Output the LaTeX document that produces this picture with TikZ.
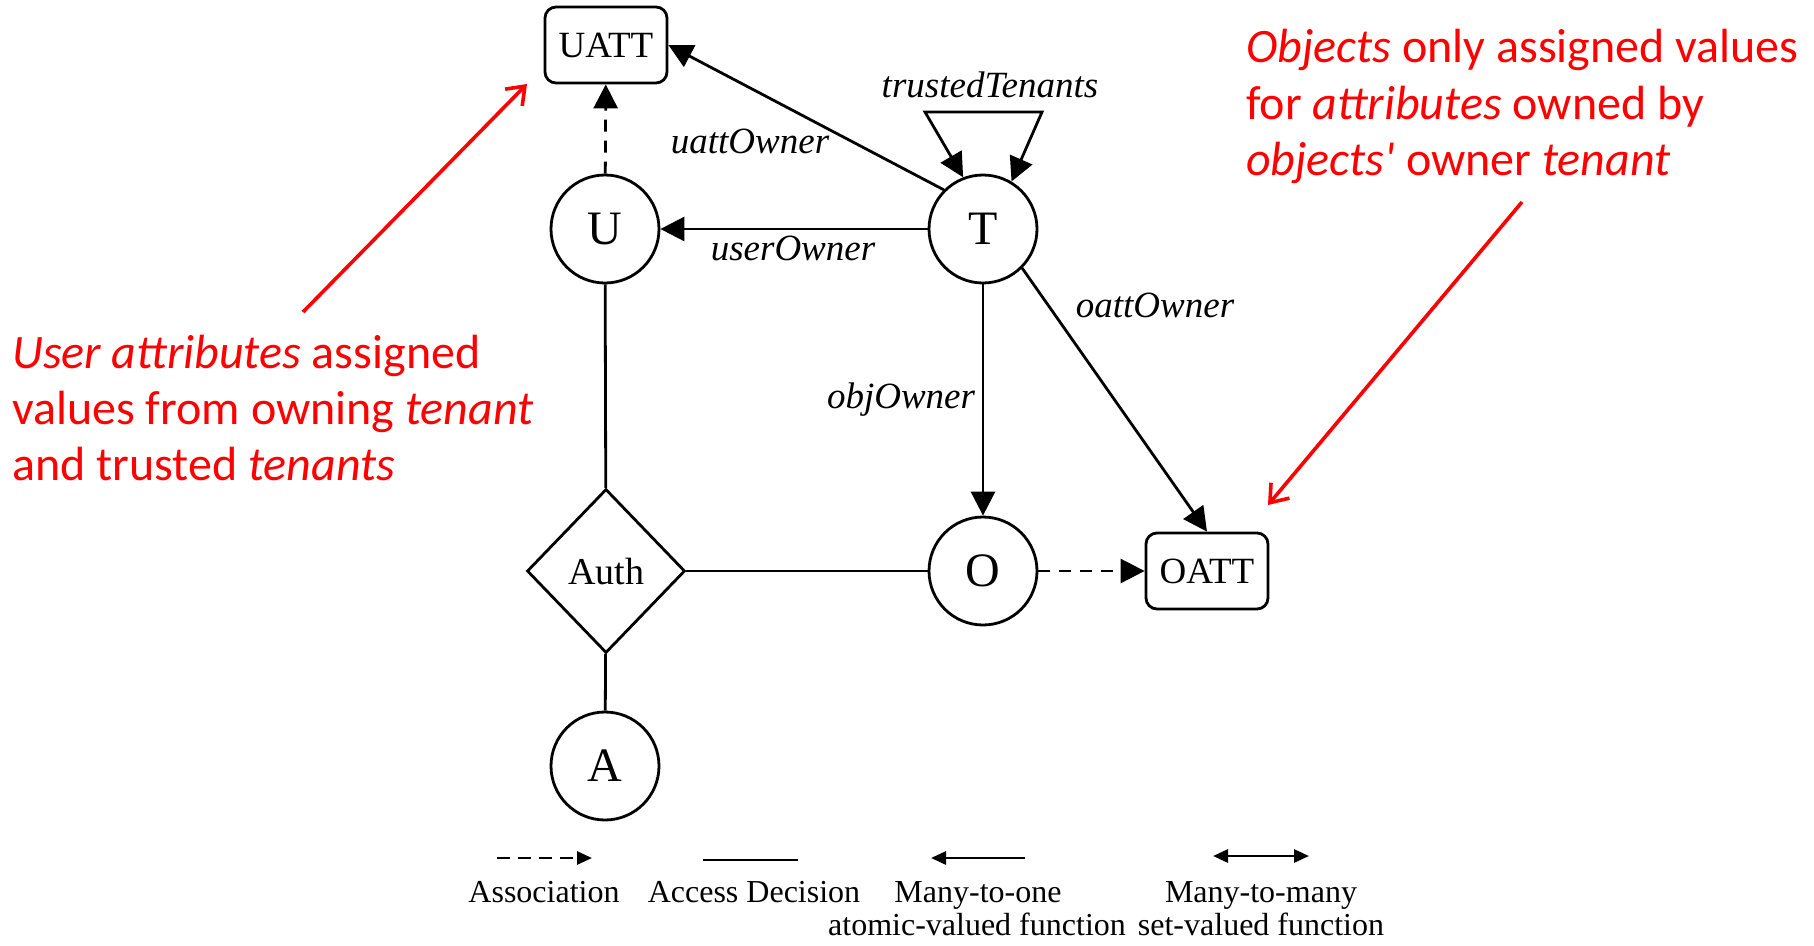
\documentclass[tikz,border=0pt]{standalone}
\usepackage{fontspec}
\setmainfont{Liberation Serif}
\newfontfamily\notefont{Carlito}
\usetikzlibrary{arrows.meta,shapes.geometric}

\begin{document}
\begin{tikzpicture}[x=1pt,y=-1pt,
  ent/.style={circle, draw, line width=2.8pt, minimum size=108pt, inner sep=0pt,
    font=\fontsize{48}{48}\selectfont},
  attbox/.style={rectangle, rounded corners=11pt, draw, line width=2.8pt,
    minimum width=122pt, minimum height=76pt, inner sep=0pt,
    font=\fontsize{37}{37}\selectfont},
  decision/.style={diamond, draw, line width=2.8pt, minimum width=158pt,
    minimum height=164pt, inner sep=0pt, font=\fontsize{38}{38}\selectfont},
  edge/.style={line width=2.8pt},
  fn/.style={edge, -{Triangle[length=24pt,width=24pt]}},
  assoc/.style={fn, dash pattern=on 12pt off 9pt},
  lbl/.style={font=\fontsize{37}{37}\selectfont\itshape, anchor=base, inner sep=0pt},
  note/.style={red, font=\notefont\fontsize{48}{56}\selectfont, anchor=base west, inner sep=0pt},
  pointer/.style={red, line width=3.6pt, -{Straight Barb[length=16pt,width=24pt]}},
  key/.style={font=\fontsize{32}{34}\selectfont, anchor=base, inner sep=0pt},
  keyfn/.style={edge, -{Triangle[length=15pt,width=13pt]}},
]
\useasboundingbox (0,0) rectangle (1814,945);

% entities and attribute sets
\node[attbox]   (UATT) at (606,45)   {UATT};
\node[ent]      (U)    at (605,229)  {U};
\node[ent]      (T)    at (983,229)  {T};
\node[decision] (Auth) at (606,571)  {Auth};
\node[ent]      (O)    at (983,571)  {O};
\node[attbox]   (OATT) at (1207,571) {OATT};
\node[ent]      (A)    at (605,766)  {A};

% associations
\draw[assoc] (U) -- (UATT);
\draw[assoc] (O) -- (OATT);

% ownership functions
\draw[fn] (T.135) -- (UATT.east);
\draw[fn] (T) -- (U);
\draw[fn] (T) -- (O);
\draw[fn] (T.-45) -- (OATT.north);

% trustedTenants self relation
\coordinate (loopL) at (925,112);
\coordinate (loopR) at (1042,112);
\draw[edge, {Triangle[length=24pt,width=24pt]}-{Triangle[length=24pt,width=24pt]}]
  (T.111) -- (loopL) -- (loopR) -- (T.59);

% access decision
\draw[edge] (U) -- (Auth);
\draw[edge] (Auth) -- (O);
\draw[edge] (Auth) -- (A);

% relation names
\node[lbl] (ltt)  at (990,97)   {trustedTenants};
\node[lbl] (luo)  at (750,153)  {uattOwner};
\node[lbl] (lus)  at (793,260)  {userOwner};
\node[lbl] (lob)  at (901,408)  {objOwner};
\node[lbl] (loa)  at (1155,317) {oattOwner};

% annotations
\node[note] (nl1) at (12,368)  {\itshape User attributes\upshape{} assigned};
\node[note] (nl2) at (12,424)  {values from owning \itshape tenant};
\node[note] (nl3) at (12,480)  {and trusted \itshape tenants};
\coordinate (p1s) at (303,312);
\coordinate (p1e) at (527,84);
\draw[pointer] (p1s) -- (p1e);

\node[note] (nr1) at (1246,62)  {\itshape Objects\upshape{} only assigned values};
\node[note] (nr2) at (1246,119) {for \itshape attributes\upshape{} owned by};
\node[note] (nr3) at (1246,175) {\itshape objects'\upshape{} owner \itshape tenant};
\coordinate (p2s) at (1522,202);
\coordinate (p2e) at (1268,505);
\draw[pointer] (p2s) -- (p2e);

% legend
\coordinate (a1) at (497,858);  \coordinate (a2) at (592,858);
\coordinate (b1) at (703,860);  \coordinate (b2) at (798,860);
\coordinate (c1) at (1025,858); \coordinate (c2) at (931,858);
\coordinate (d1) at (1213,856); \coordinate (d2) at (1309,856);
\draw[keyfn, dash pattern=on 13pt off 8pt] (a1) -- (a2);
\draw[edge] (b1) -- (b2);
\draw[keyfn] (c1) -- (c2);
\draw[edge, {Triangle[length=15pt,width=13pt]}-{Triangle[length=15pt,width=13pt]}] (d1) -- (d2);

\node[key] (k1)  at (544,902)  {Association};
\node[key] (k2)  at (754,902)  {Access Decision};
\node[key] (k3)  at (978,902)  {Many-to-one};
\node[key] (k3b) at (977,935)  {atomic-valued function};
\node[key] (k4)  at (1261,902) {Many-to-many};
\node[key] (k4b) at (1261,935) {set-valued function};
\end{tikzpicture}
\end{document}
